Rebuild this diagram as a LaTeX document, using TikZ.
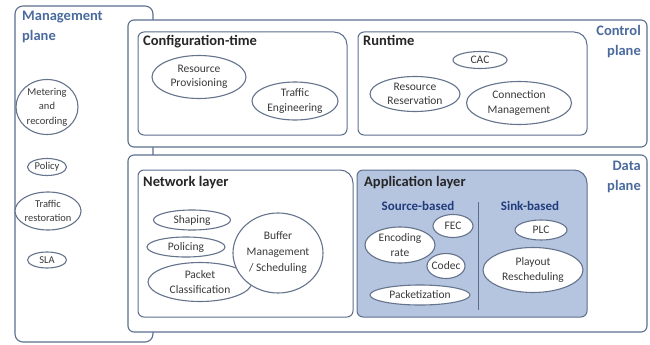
\documentclass[tikz,border=0pt]{standalone}
\usepackage{fontspec}
\setmainfont{Carlito}
\usetikzlibrary{shapes.geometric}
\definecolor{edge}{HTML}{5B6E8E}
\definecolor{ovaledge}{HTML}{65738D}
\definecolor{planeblue}{HTML}{4B6B9E}
\definecolor{applfill}{HTML}{B5C4DF}
\definecolor{subblue}{HTML}{213C7C}
\definecolor{txt}{HTML}{3A3A3A}
\begin{document}
\begin{tikzpicture}[x=1pt,y=-1pt,
  panel/.style={draw=edge, line width=1.1pt, fill=white},
  layer/.style={draw=edge, line width=1pt, fill=white},
  oval/.style={ellipse, draw=ovaledge, line width=1.1pt, fill=white, inner sep=0pt},
  ovaltext/.style={font=\fontsize{11.5}{14.5}\selectfont, text=txt, align=center, inner sep=0pt},
  mgmttext/.style={ovaltext, font=\fontsize{10.5}{14.5}\selectfont},
  head/.style={font=\fontsize{14.5}{16}\selectfont\bfseries, text=black!85, anchor=north west, inner sep=0pt},
  sub/.style={font=\fontsize{13}{14}\selectfont\bfseries, text=subblue, inner sep=0pt},
  planelabel/.style={font=\fontsize{14.5}{20}\selectfont\bfseries, text=planeblue, inner sep=0pt},
]
\useasboundingbox (0,0) rectangle (650,345);

% management plane (partly hidden behind the other planes)
\draw[panel, rounded corners=8pt] (15,6) rectangle (153,342);
\node[planelabel, anchor=north west, align=left] (mgmtlabel) at (22,11) {Management\\plane};

% control and data planes
\draw[panel, rounded corners=6pt] (128,20) rectangle (647,147);
\draw[panel, rounded corners=6pt] (128,155) rectangle (647,332);
\node[planelabel, anchor=north east, align=right] (ctrllabel) at (641,25) {Control\\plane};
\node[planelabel, anchor=north east, align=right] (datalabel) at (641,161) {Data\\plane};

% inner layers: larger rounding on the top right corner
\draw[layer] (240,135) [rounded corners=6pt] -- (138,135) -- (138,32) [rounded corners=13pt] -- (347,32) [rounded corners=6pt] -- (347,135) -- cycle;
\draw[layer] (470,135) [rounded corners=6pt] -- (358,135) -- (358,32) [rounded corners=13pt] -- (587,32) [rounded corners=6pt] -- (587,135) -- cycle;
\draw[layer] (240,317) [rounded corners=6pt] -- (138,317) -- (138,170) [rounded corners=13pt] -- (353,170) [rounded corners=6pt] -- (353,317) -- cycle;
\draw[layer, fill=applfill] (470,317) [rounded corners=6pt] -- (357,317) -- (357,170) [rounded corners=13pt] -- (587,170) [rounded corners=6pt] -- (587,317) -- cycle;

\node[head] (cfghead) at (143,35) {Configuration-time};
\node[head] (runhead) at (363,35) {Runtime};
\node[head] (nethead) at (143,176) {Network layer};
\node[head] (apphead) at (364,176) {Application layer};

\node[sub] (srchead) at (418,206) {Source-based};
\node[sub] (sinkhead) at (530,206) {Sink-based};
\coordinate (divtop) at (478,202);
\coordinate (divbot) at (478,310);
\draw[edge, line width=0.9pt] (divtop) -- (divbot);

% management functions
\node[oval, minimum width=62pt, minimum height=55pt] (meter) at (47,107) {};
\node[mgmttext] at (meter) {Metering\\and\\recording};
\node[oval, minimum width=39pt, minimum height=17pt] (policy) at (47,167) {};
\node[mgmttext] at (policy) {Policy};
\node[oval, minimum width=66pt, minimum height=38pt] (restore) at (48,211) {};
\node[mgmttext] at (restore) {Traffic\\restoration};
\node[oval, minimum width=39pt, minimum height=16pt] (sla) at (47,260) {};
\node[mgmttext] at (sla) {SLA};

% configuration-time functions
\node[oval, minimum width=94pt, minimum height=43pt] (provision) at (199,77) {};
\node[ovaltext] at (provision) {Resource\\Provisioning};
\node[oval, minimum width=86pt, minimum height=38pt] (te) at (295,101) {};
\node[ovaltext] at (te) {Traffic\\Engineering};

% runtime functions
\node[oval, minimum width=54pt, minimum height=17pt] (cac) at (480,60) {};
\node[ovaltext] at (cac) {CAC};
\node[oval, minimum width=90pt, minimum height=35pt] (reserve) at (415,94) {};
\node[ovaltext] at (reserve) {Resource\\Reservation};
\node[oval, minimum width=105pt, minimum height=43pt] (connmgmt) at (519,103) {};
\node[ovaltext] at (connmgmt) {Connection\\Management};

% network layer functions
\node[oval, minimum width=77pt, minimum height=20pt] (shaping) at (192,220) {};
\node[ovaltext] at (shaping) {Shaping};
\node[oval, minimum width=78pt, minimum height=20pt] (policing) at (186,247) {};
\node[ovaltext] at (policing) {Policing};
\node[oval, minimum width=104pt, minimum height=39pt] (classify) at (200,282) {};
\node[ovaltext] at (classify) {Packet\\Classification};
\node[oval, minimum width=90pt, minimum height=80pt] (buffer) at (278,253) {};
\node[ovaltext, font=\fontsize{11.5}{16}\selectfont] at (buffer) {Buffer\\Management\\/ Scheduling};

% application layer functions
\node[oval, minimum width=40pt, minimum height=23pt] (fec) at (453,226) {};
\node[ovaltext] at (fec) {FEC};
\node[oval, minimum width=70pt, minimum height=36pt] (encrate) at (400,245) {};
\node[ovaltext] at (encrate) {Encoding\\rate};
\node[oval, minimum width=38pt, minimum height=25pt] (codec) at (446,266) {};
\node[ovaltext] at (codec) {Codec};
\node[oval, minimum width=100pt, minimum height=20pt] (packetize) at (420,295) {};
\node[ovaltext] at (packetize) {Packetization};
\node[oval, minimum width=52pt, minimum height=20pt] (plc) at (541,230) {};
\node[ovaltext] at (plc) {PLC};
\node[oval, minimum width=100pt, minimum height=45pt] (playout) at (533,270) {};
\node[ovaltext] at (playout) {Playout\\Rescheduling};
\end{tikzpicture}
\end{document}
